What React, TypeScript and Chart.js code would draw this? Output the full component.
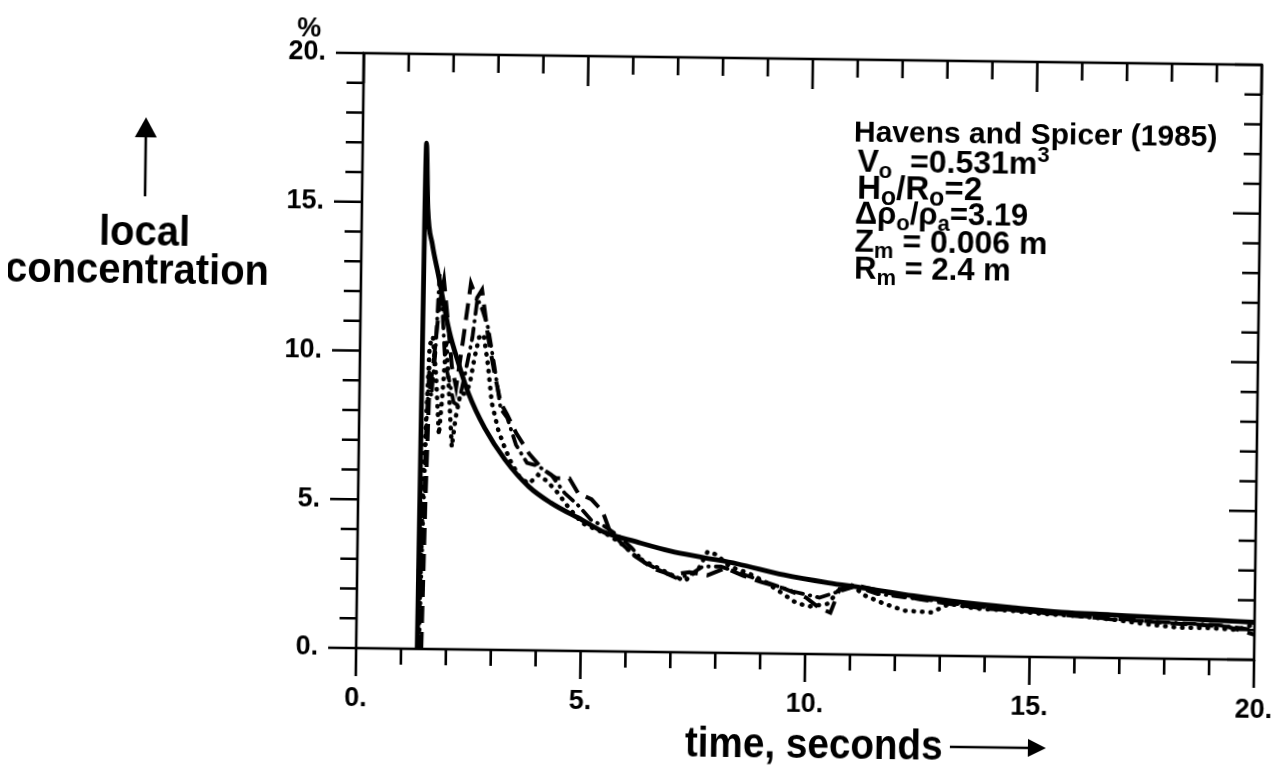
import React, { useEffect, useRef } from "react";
import { Chart, registerables } from "chart.js";

Chart.register(...registerables);

// ---- data (time in seconds, local concentration in %) ----
const modelTime = [1.36, 1.42, 1.47, 1.58, 1.72, 1.98, 2.2, 2.43, 2.8, 3.26, 3.8, 4.29, 5.0, 5.5, 6.2, 6.97, 7.7, 8.46, 9.5, 10.5, 11.25, 12.4, 13.5, 14.6, 15.7, 16.8, 17.9, 19.0, 20.0];
const modelConc = [0, 17.0, 14.8, 13.6, 12.6, 10.7, 9.6, 8.6, 7.45, 6.4, 5.5, 4.97, 4.4, 4.0, 3.7, 3.4, 3.2, 3.0, 2.65, 2.4, 2.25, 2.0, 1.8, 1.65, 1.52, 1.45, 1.38, 1.32, 1.26];

const dashTime = [1.45, 1.5, 1.55, 1.65, 1.75, 1.85, 1.95, 2.05, 2.15, 2.3, 2.45, 2.58, 2.7, 2.85, 3.0, 3.15, 3.3, 3.5, 3.8, 4.1, 4.4, 4.7, 4.9, 5.2, 5.45, 5.6, 5.9, 6.2, 6.6, 7.0, 7.4, 7.8, 8.2, 8.6, 9.0, 9.5, 10.0, 10.3, 10.55, 10.75, 11.2, 11.8, 12.5, 13.2, 14.0, 14.8, 15.6, 16.4, 17.2, 18.0, 18.8, 19.4, 20.0];
const dashConc = [0, 5, 8.5, 9.8, 11.5, 12.4, 11, 9.5, 8.8, 10.5, 12.3, 11.8, 12.1, 10.5, 9.3, 8.3, 7.9, 7.3, 6.6, 6.1, 5.8, 5.8, 5.3, 5.1, 4.7, 4.1, 3.6, 3.2, 2.8, 2.6, 2.7, 2.6, 2.85, 2.6, 2.4, 2.2, 1.9, 1.55, 1.4, 2.2, 2.3, 2.1, 1.9, 1.75, 1.6, 1.55, 1.45, 1.35, 1.3, 1.2, 1.15, 1.1, 0.85];

const dotTime = [1.38, 1.42, 1.45, 1.5, 1.55, 1.62, 1.7, 1.78, 1.85, 1.92, 2.0, 2.07, 2.15, 2.25, 2.35, 2.45, 2.55, 2.65, 2.75, 2.85, 2.95, 3.1, 3.25, 3.4, 3.6, 3.8, 4.0, 4.2, 4.45, 4.7, 5.0, 5.3, 5.6, 5.9, 6.2, 6.6, 7.0, 7.3, 7.6, 7.8, 8.0, 8.3, 8.7, 9.1, 9.5, 9.8, 10.1, 10.5, 10.8, 11.0, 11.3, 11.7, 12.2, 12.8, 13.2, 13.8, 14.5, 15.3, 16.0, 16.8, 17.6, 18.3, 19.0, 19.6, 20.0];
const dotConc = [0, 3, 6, 8, 10.2, 10.5, 9.2, 7.2, 8.6, 10.4, 8.5, 6.8, 7.8, 8.6, 8.6, 8.9, 9.8, 10.5, 10.6, 9.6, 8.3, 7.4, 6.8, 6.3, 5.8, 5.6, 5.9, 5.7, 5.3, 4.8, 4.3, 4.1, 3.9, 3.6, 3.2, 2.9, 2.6, 2.4, 2.8, 3.4, 3.3, 2.9, 2.7, 2.4, 2.0, 1.7, 1.6, 1.7, 2.3, 2.35, 2.0, 1.75, 1.5, 1.45, 1.75, 1.6, 1.55, 1.45, 1.4, 1.3, 1.15, 1.05, 1.05, 1.0, 1.2];

const dashDotTime = [1.4, 1.45, 1.5, 1.55, 1.6, 1.68, 1.75, 1.82, 1.9, 2.0, 2.1, 2.2, 2.35, 2.5, 2.6, 2.72, 2.85, 3.0, 3.15, 3.3, 3.5, 3.75, 4.0, 4.3, 4.6, 4.9, 5.2, 5.5, 5.8, 6.1, 6.4, 6.8, 7.1, 7.4, 7.7, 8.1, 8.5, 8.9, 9.3, 9.7, 10.0, 10.3, 10.7, 11.1, 11.6, 12.2, 12.9, 13.6, 14.4, 15.2, 16.0, 16.8, 17.6, 18.4, 19.2, 20.0];
const dashDotConc = [0, 4, 7.5, 9.5, 8.5, 10, 12.6, 11.5, 9.6, 9, 8.3, 8.2, 9.3, 10.5, 11.8, 11.4, 10.8, 9.5, 8.1, 7.8, 6.9, 6.3, 6.2, 5.9, 5.3, 4.9, 4.4, 4.2, 3.9, 3.5, 3.0, 2.7, 2.5, 2.6, 2.9, 2.9, 2.7, 2.5, 2.3, 2.1, 2.0, 1.9, 2.1, 2.3, 2.05, 1.95, 1.85, 1.7, 1.6, 1.5, 1.42, 1.3, 1.25, 1.2, 1.15, 1.0];

const xTickLabels = ["0.", "5.", "10.", "15.", "20."];
const yTickLabels = ["0.", "5.", "10.", "15.", "20."];
const yUnit = "%";
const yTitleLines = ["local", "concentration"];
const xTitle = "time, seconds";

type Seg = { t: string; k?: "sub" | "sup" };
const annotationLines: Seg[][] = [
  [{ t: "Havens and Spicer (1985)" }],
  [{ t: "V" }, { t: "o", k: "sub" }, { t: "  =0.531m" }, { t: "3", k: "sup" }],
  [{ t: "H" }, { t: "o", k: "sub" }, { t: "/R" }, { t: "o", k: "sub" }, { t: "=2" }],
  [{ t: "\u0394\u03C1" }, { t: "o", k: "sub" }, { t: "/\u03C1" }, { t: "a", k: "sub" }, { t: "=3.19" }],
  [{ t: "Z" }, { t: "m", k: "sub" }, { t: " = 0.006 m" }],
  [{ t: "R" }, { t: "m", k: "sub" }, { t: " = 2.4 m" }],
];

const FONT = "'Liberation Sans', Arial, Helvetica, sans-serif";

const toPoints = (xs: number[], ys: number[]) => xs.map((x, i) => ({ x, y: ys[i] }));

const decorPlugin = {
  id: "decor",
  afterDraw(chart: any) {
    const { ctx, chartArea } = chart;
    const { left, right, top, bottom } = chartArea;
    const xs = chart.scales.x;
    const ys = chart.scales.y;
    ctx.save();
    ctx.strokeStyle = "#000";
    ctx.fillStyle = "#000";
    ctx.lineWidth = 2.6;
    ctx.lineCap = "butt";
    ctx.strokeRect(left, top, right - left, bottom - top);
    ctx.beginPath();
    for (let i = 0; i <= 20; i++) {
      const major = i % 5 === 0;
      const px = xs.getPixelForValue(i);
      ctx.moveTo(px, bottom);
      ctx.lineTo(px, bottom + (major ? 28 : 16));
      ctx.moveTo(px, top);
      ctx.lineTo(px, top + (major ? 30 : 18));
      const py = ys.getPixelForValue(i);
      ctx.moveTo(left, py);
      ctx.lineTo(left - (major ? 28 : 17), py);
      ctx.moveTo(right, py);
      ctx.lineTo(right - (major ? 27 : 17), py);
    }
    ctx.stroke();

    // unit
    ctx.font = `bold 27px ${FONT}`;
    ctx.textAlign = "center";
    ctx.textBaseline = "alphabetic";
    ctx.fillText(yUnit, left - 55, 43);

    // y title arrow
    ctx.lineWidth = 2.6;
    ctx.beginPath();
    ctx.moveTo(143, 205);
    ctx.lineTo(143, 142);
    ctx.stroke();
    ctx.beginPath();
    ctx.moveTo(143, 126);
    ctx.lineTo(132, 146);
    ctx.lineTo(154, 146);
    ctx.closePath();
    ctx.fill();

    const drawScaled = (text: string, x: number, y: number, sx: number, align: CanvasTextAlign) => {
      ctx.save();
      ctx.translate(x, y);
      ctx.scale(sx, 1);
      ctx.textAlign = align;
      ctx.fillText(text, 0, 0);
      ctx.restore();
    };
    // y title
    ctx.font = `bold 42px ${FONT}`;
    drawScaled(yTitleLines[0], 143, 254, 0.95, "center");
    drawScaled(yTitleLines[1], 136, 292, 0.95, "center");

    // x title with arrow
    drawScaled(xTitle, 690, 758, 0.92, "left");
    ctx.lineWidth = 2.4;
    ctx.beginPath();
    ctx.moveTo(955, 745);
    ctx.lineTo(1036, 745);
    ctx.stroke();
    ctx.beginPath();
    ctx.moveTo(1051, 745);
    ctx.lineTo(1033, 736);
    ctx.lineTo(1033, 754);
    ctx.closePath();
    ctx.fill();

    // annotation block
    const baseX = [851, 855, 855, 853, 853, 853];
    const baseY = [141, 171, 198, 223, 251, 278];
    const mainSize = [30, 32, 33, 31, 32, 31];
    const smallSize = [21, 22, 25, 22, 22, 22];
    annotationLines.forEach((line, li) => {
      let x = baseX[li];
      line.forEach((seg) => {
        let size = mainSize[li];
        let dy = 0;
        if (seg.k === "sub") { size = smallSize[li]; dy = 6; }
        if (seg.k === "sup") { size = smallSize[li]; dy = -12; }
        ctx.font = `bold ${size}px ${FONT}`;
        ctx.textAlign = "left";
        ctx.fillText(seg.t, x, baseY[li] + dy);
        x += ctx.measureText(seg.t).width;
      });
    });
    ctx.restore();
  },
};

export default function App() {
  const ref = useRef<HTMLCanvasElement | null>(null);
  useEffect(() => {
    document.documentElement.style.overflow = "hidden";
    document.body.style.overflow = "hidden";
    if (!ref.current) return;
    const tickFont = { family: FONT, weight: "bold" as const, size: 27 };
    const chart = new Chart(ref.current, {
      type: "line",
      data: {
        datasets: [
          {
            label: "model",
            data: toPoints(modelTime, modelConc),
            borderColor: "#000",
            borderWidth: 4.8,
            pointRadius: 0,
            cubicInterpolationMode: "monotone",
            fill: false,
          },
          {
            label: "dashed",
            data: toPoints(dashTime, dashConc),
            borderColor: "#000",
            borderWidth: 4,
            borderDash: [17, 9],
            pointRadius: 0,
            tension: 0,
            fill: false,
          },
          {
            label: "dotted",
            data: toPoints(dotTime, dotConc),
            borderColor: "#000",
            borderWidth: 4.5,
            borderDash: [0.5, 8],
            borderCapStyle: "round",
            pointRadius: 0,
            tension: 0,
            fill: false,
          },
          {
            label: "dash-dot",
            data: toPoints(dashDotTime, dashDotConc),
            borderColor: "#000",
            borderWidth: 3.8,
            borderDash: [12, 7, 0.5, 7],
            borderCapStyle: "round",
            pointRadius: 0,
            tension: 0,
            fill: false,
          },
        ],
      },
      options: {
        animation: false,
        responsive: false,
        layout: { padding: { top: 59, right: 24, left: 0, bottom: 0 } },
        plugins: { legend: { display: false }, tooltip: { enabled: false } },
        scales: {
          x: {
            type: "linear",
            min: 0,
            max: 20,
            grid: { display: false, drawTicks: false },
            border: { display: false },
            ticks: {
              stepSize: 5,
              padding: 34,
              color: "#000",
              font: tickFont,
              maxRotation: 0,
              autoSkip: false,
              callback: (v: any) => xTickLabels[Math.round(Number(v) / 5)] ?? "",
            },
            afterFit: (s: any) => {
              s.height = 113;
              s.paddingLeft = 0;
              s.paddingRight = 0;
            },
          },
          y: {
            type: "linear",
            min: 0,
            max: 20,
            grid: { display: false, drawTicks: false },
            border: { display: false },
            ticks: {
              stepSize: 5,
              padding: 38,
              color: "#000",
              font: tickFont,
              autoSkip: false,
              callback: (v: any) => yTickLabels[Math.round(Number(v) / 5)] ?? "",
            },
            afterFit: (s: any) => {
              s.width = 360;
              s.paddingTop = 0;
              s.paddingBottom = 0;
            },
          },
        },
      },
      plugins: [decorPlugin],
    } as any);
    return () => chart.destroy();
  }, []);

  return (
    <div
      style={{
        width: 1282,
        height: 767,
        margin: "-8px 0 0 -8px",
        transform: "rotate(0.75deg)",
        transformOrigin: "809px 356.5px",
        background: "#fff",
      }}
    >
      <canvas ref={ref} width={1282} height={767} style={{ display: "block" }} />
    </div>
  );
}
